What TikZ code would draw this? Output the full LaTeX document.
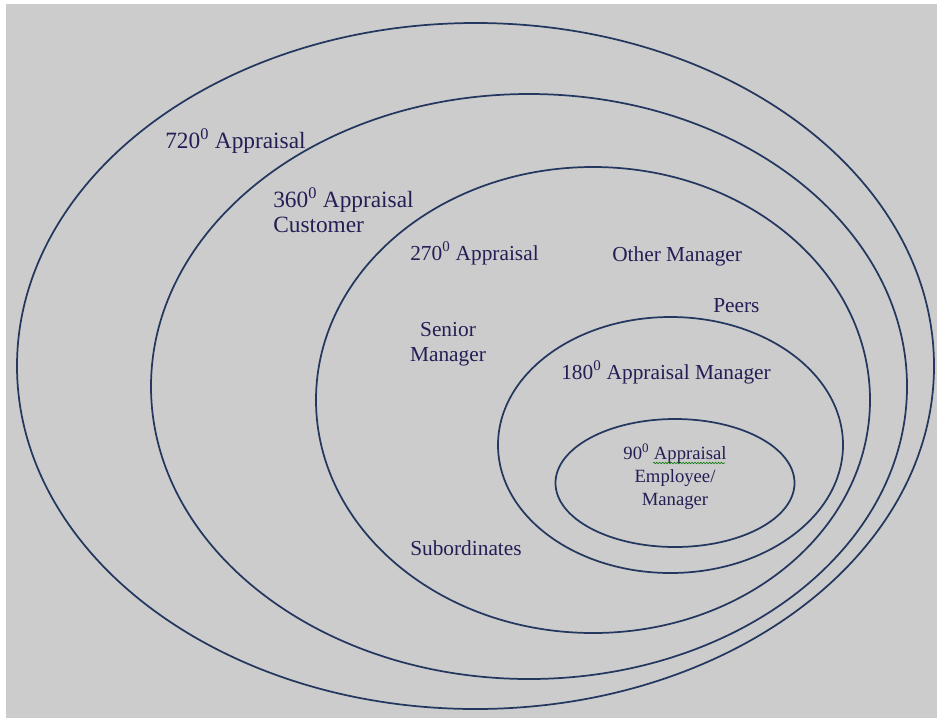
\documentclass[tikz,border=0pt]{standalone}
\usepackage{fontspec}
\setmainfont{Liberation Serif}
\usetikzlibrary{decorations.pathmorphing}
\definecolor{ringblue}{RGB}{35,55,95}
\definecolor{labelink}{RGB}{35,30,85}
\definecolor{panelgray}{RGB}{204,204,204}
\tikzset{
  ring/.style={draw=ringblue, line width=1.3pt},
  tag/.style={text=labelink, inner sep=0pt, anchor=base west, font=\fontsize{16}{18.75}\selectfont},
  bigtag/.style={tag, font=\fontsize{17.5}{18.75}\selectfont},
  smalltag/.style={tag, anchor=base, align=center, font=\fontsize{14}{16.9}\selectfont},
  squiggle/.style={draw=green!45!black, line width=0.4pt, decorate,
    decoration={snake, segment length=2.2pt, amplitude=0.6pt}}
}

\begin{document}
\begin{tikzpicture}[x=0.75pt,y=-0.75pt]
  \useasboundingbox (0,0) rectangle (937,718);
  \fill[panelgray] (6,4) rectangle (937,718);
  % rings, outermost first
  \draw[ring] (475.5,366) ellipse [x radius=458.5, y radius=343];
  \draw[ring] (529,386.5) ellipse [x radius=378, y radius=292.5];
  \draw[ring] (593,400) ellipse [x radius=277, y radius=233];
  \draw[ring] (670.5,445) ellipse [x radius=172.5, y radius=128];
  \draw[ring] (675,483) ellipse [x radius=119.5, y radius=64];
  % labels (multi-line ones sit on their last baseline)
  \node[bigtag] (a720) at (165,148) {720\textsuperscript{0} Appraisal};
  \node[bigtag, align=left] (a360) at (273,232) {360\textsuperscript{0} Appraisal\\Customer};
  \node[tag] (a270) at (410,260) {270\textsuperscript{0} Appraisal};
  \node[tag] (other) at (612,261) {Other Manager};
  \node[tag] (peers) at (713,312) {Peers};
  \node[tag, anchor=base, align=center] (senior) at (448,361) {Senior\\Manager};
  \node[tag] (a180) at (561,379) {180\textsuperscript{0} Appraisal Manager};
  \node[smalltag] (a90) at (675,505) {90\textsuperscript{0} Appraisal\\Employee/\\Manager};
  \node[tag] (subs) at (410,555) {Subordinates};
  \draw[squiggle] (653,463) -- (725,463);
\end{tikzpicture}
\end{document}
